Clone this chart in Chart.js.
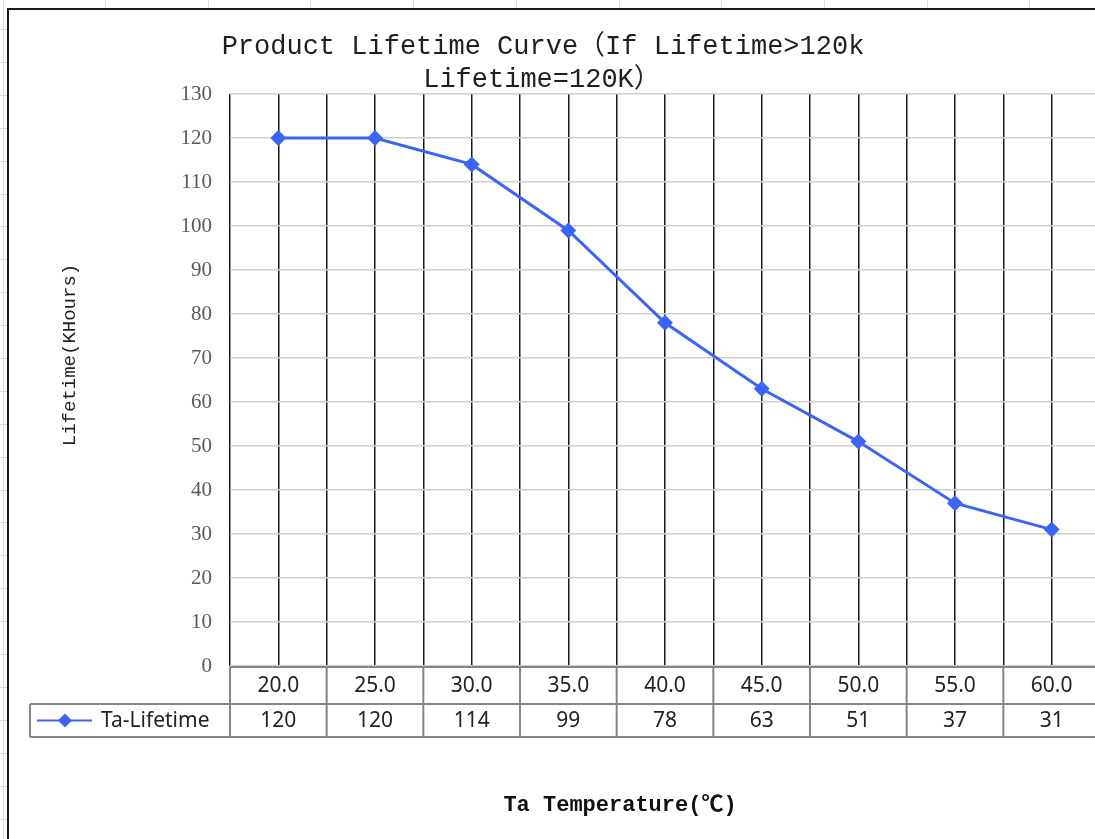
<!DOCTYPE html>
<html>
<head>
<meta charset="utf-8">
<title>Product Lifetime Curve</title>
<script src="https://cdn.jsdelivr.net/npm/chart.js@4.4.1/dist/chart.umd.min.js"></script>
<style>
  html, body { margin: 0; padding: 0; background: #fff; overflow: hidden; }
  #lifeChart { display: block; }
</style>
</head>
<body>
<canvas id="lifeChart" width="1110" height="839"></canvas>
<script>
/* chart data  ************************************************** */
var temperatures = [20, 25, 30, 35, 40, 45, 50, 55, 60];
var tempLabels = ['20.0', '25.0', '30.0', '35.0', '40.0', '45.0', '50.0', '55.0', '60.0'];
var lifetimes = [120, 120, 114, 99, 78, 63, 51, 37, 31];
var seriesName = 'Ta-Lifetime';
var yMin = 0, yMax = 130, yStep = 10;
var titleLines = ['Product Lifetime Curve\uFF08If Lifetime>120k', 'Lifetime=120K\uFF09'];
var yTitle = 'Lifetime(KHours)';
var xTitle = 'Ta Temperature(\u2103)';

var lineBlue = '#3d65f5';
var monoFont = '"Liberation Mono", "Noto Sans CJK SC", monospace';
var serifFont = '"Liberation Serif", "DejaVu Serif", serif';
var tableFont = '"Noto Sans", "Open Sans", sans-serif';

// half of one category, used for the column edges
var halfStep = (temperatures[1] - temperatures[0]) / 2;

/* background: sheet lines + chart frame
************************************************** */
var framePlugin = {
	id: 'frame',
	beforeDraw: function(chart){
		var ctx = chart.ctx, w = chart.width, h = chart.height;
		ctx.save();
		ctx.fillStyle = '#fff';
		ctx.fillRect(0, 0, w, h);
		// faint spreadsheet cells peeking out round the chart
		ctx.strokeStyle = '#d9dbe0';
		ctx.lineWidth = 1;
		for(var x = 105; x < w; x += 102.7){
			ctx.beginPath(); ctx.moveTo(Math.round(x) + 0.5, 0); ctx.lineTo(Math.round(x) + 0.5, 9); ctx.stroke();
		}
		for(var y = 29; y < h; y += 32.9){
			ctx.beginPath(); ctx.moveTo(0, Math.round(y) + 0.5); ctx.lineTo(8, Math.round(y) + 0.5); ctx.stroke();
		}
		ctx.beginPath(); ctx.moveTo(3.5, 0); ctx.lineTo(3.5, h); ctx.stroke();
		// chart border
		ctx.strokeStyle = '#1a1a1a';
		ctx.lineWidth = 2;
		ctx.beginPath();
		ctx.moveTo(8, h);
		ctx.lineTo(8, 9);
		ctx.lineTo(w, 9);
		ctx.stroke();
		ctx.restore();
	}
};

/* titles + data table under the plot
************************************************** */
var tablePlugin = {
	id: 'dataTable',
	afterDraw: function(chart){
		var ctx = chart.ctx, area = chart.chartArea, xs = chart.scales.x;
		var top = area.bottom + 1, mid = top + 37, bot = mid + 33;
		var legendLeft = 30;
		ctx.save();

		// chart title (two centred lines)
		ctx.fillStyle = '#1f1f1f';
		ctx.font = '27px ' + monoFont;
		ctx.textAlign = 'center';
		ctx.textBaseline = 'middle';
		ctx.fillText(titleLines[0], 543, 47);
		ctx.fillText(titleLines[1], 542, 80);

		// axis titles
		ctx.font = 'bold 22px ' + monoFont;
		ctx.fillStyle = '#111';
		ctx.fillText(xTitle, 620, 805);
		ctx.save();
		ctx.translate(70, 355);
		ctx.rotate(-Math.PI / 2);
		ctx.font = '19px ' + monoFont;
		ctx.fillStyle = '#1f1f1f';
		ctx.fillText(yTitle, 0, 0);
		ctx.restore();

		// table grid
		ctx.strokeStyle = '#858585';
		ctx.lineWidth = 2;
		var left = xs.getPixelForValue(temperatures[0] - halfStep);
		var right = xs.getPixelForValue(temperatures[temperatures.length - 1] + halfStep);
		ctx.beginPath();
		ctx.moveTo(left, top); ctx.lineTo(right, top);
		ctx.moveTo(legendLeft, mid); ctx.lineTo(right, mid);
		ctx.moveTo(legendLeft, bot); ctx.lineTo(right, bot);
		ctx.moveTo(legendLeft, mid); ctx.lineTo(legendLeft, bot);
		for(var i = 0; i <= temperatures.length; i++){
			var edge = xs.getPixelForValue(temperatures[0] - halfStep + i * halfStep * 2);
			ctx.moveTo(edge, top); ctx.lineTo(edge, bot);
		}
		ctx.stroke();

		// cell text
		ctx.font = '21px ' + tableFont;
		ctx.fillStyle = '#222';
		ctx.textAlign = 'center';
		for(var j = 0; j < temperatures.length; j++){
			var cx = xs.getPixelForValue(temperatures[j]);
			ctx.fillText(tempLabels[j], cx, (top + mid) / 2 + 1);
			ctx.fillText(String(lifetimes[j]), cx, (mid + bot) / 2 + 1);
		}

		// legend key in the first cell
		var ky = (mid + bot) / 2;
		ctx.strokeStyle = lineBlue;
		ctx.lineWidth = 2;
		ctx.beginPath(); ctx.moveTo(37, ky); ctx.lineTo(92, ky); ctx.stroke();
		ctx.fillStyle = lineBlue;
		ctx.beginPath();
		ctx.moveTo(65, ky - 7); ctx.lineTo(72, ky); ctx.lineTo(65, ky + 7); ctx.lineTo(58, ky);
		ctx.closePath(); ctx.fill();
		ctx.fillStyle = '#222';
		ctx.textAlign = 'left';
		ctx.fillText(seriesName, 101, ky + 1);

		ctx.restore();
	}
};

/* line chart  ************************************************** */
var points = temperatures.map(function(t, i){ return { x: t, y: lifetimes[i] }; });

var ctx = document.getElementById('lifeChart').getContext('2d');
var lifeChart = new Chart(ctx, {
	type: 'line',
	data: {
		datasets: [{
			label: seriesName,
			data: points,
			borderColor: lineBlue,
			backgroundColor: lineBlue,
			borderWidth: 3,
			pointStyle: 'rectRot',
			pointRadius: 8,
			pointBorderWidth: 0,
			pointBackgroundColor: lineBlue,
			tension: 0,
			clip: false
		}]
	},
	options: {
		responsive: false,
		animation: false,
		devicePixelRatio: 1,
		layout: { padding: { top: 94, bottom: 173, left: 0, right: 10 } },
		plugins: {
			legend: { display: false },
			title: { display: false },
			tooltip: { enabled: false }
		},
		scales: {
			x: {
				type: 'linear',
				min: temperatures[0] - halfStep,
				max: temperatures[temperatures.length - 1] + halfStep,
				afterBuildTicks: function(scale){
					var t = [];
					for(var v = scale.min; v <= scale.max + 0.001; v += halfStep){ t.push({ value: v }); }
					scale.ticks = t;
				},
				afterFit: function(scale){ scale.height = 0; },
				ticks: { display: false },
				border: { display: false },
				grid: { color: '#1a1a1a', lineWidth: 1.5, drawTicks: false }
			},
			y: {
				min: yMin,
				max: yMax,
				afterFit: function(scale){ scale.width = 230; },
				ticks: {
					stepSize: yStep,
					padding: 18,
					color: '#595959',
					font: { family: serifFont, size: 21 }
				},
				border: { display: false },
				grid: { color: '#cfcfcf', lineWidth: 1.5, drawTicks: false }
			}
		}
	},
	plugins: [framePlugin, tablePlugin]
});
</script>
</body>
</html>
